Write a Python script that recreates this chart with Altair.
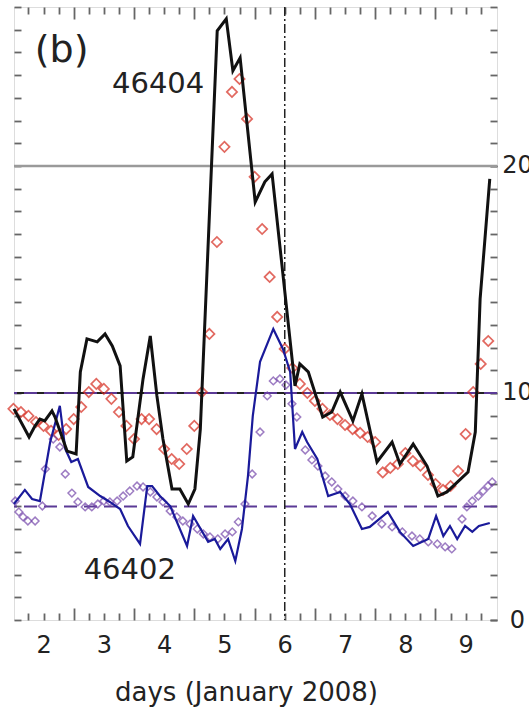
import altair as alt
import pandas as pd

FONT = "DejaVu Sans"

# ---------------- data ----------------
# buoy 46404, observed (black line)
obs_46404_day = [1.51, 1.76, 1.86, 1.94, 2.02, 2.14, 2.19, 2.39, 2.54, 2.61,
                 2.72, 2.89, 3.02, 3.14, 3.27, 3.38, 3.48, 3.65, 3.77, 3.88,
                 3.98, 4.13, 4.26, 4.40, 4.51, 4.60, 4.88, 5.03, 5.14, 5.26,
                 5.51, 5.67, 5.79, 6.17, 6.25, 6.39, 6.63, 6.78, 6.92, 7.13,
                 7.28, 7.53, 7.78, 7.91, 8.13, 8.36, 8.54, 8.69, 9.04, 9.16,
                 9.24, 9.40]
obs_46404_val = [9.30, 8.06, 8.55, 8.85, 8.77, 9.21, 8.94, 7.44, 7.31, 10.93,
                 12.38, 12.25, 12.60, 12.07, 11.19, 7.00, 7.18, 10.62, 12.51, 9.87,
                 7.97, 5.77, 5.77, 5.11, 5.77, 8.41, 25.95, 26.48, 24.19, 24.76,
                 18.41, 19.30, 19.65, 10.31, 11.28, 10.93, 8.94, 9.16, 10.04, 8.77,
                 9.96, 6.96, 7.84, 6.87, 7.75, 6.78, 5.46, 5.64, 6.52, 8.28,
                 14.14, 19.43]

# buoy 46404, model (red diamonds)
mod_46404_day = [1.500, 1.625, 1.750, 1.875, 2.000, 2.125, 2.250, 2.375, 2.500, 2.625,
                 2.750, 2.875, 3.000, 3.125, 3.250, 3.375, 3.500, 3.625, 3.750, 3.875,
                 4.000, 4.125, 4.250, 4.375, 4.500, 4.625, 4.750, 4.875, 5.000, 5.125,
                 5.250, 5.375, 5.500, 5.625, 5.750, 5.875, 6.000, 6.125, 6.250, 6.375,
                 6.500, 6.625, 6.750, 6.875, 7.000, 7.125, 7.250, 7.375, 7.500, 7.625,
                 7.750, 7.875, 8.000, 8.125, 8.250, 8.375, 8.500, 8.625, 8.750, 8.875,
                 9.000, 9.125, 9.250, 9.375]
mod_46404_val = [9.30, 9.16, 8.99, 8.72, 8.55, 8.33, 8.15, 8.41, 8.85, 9.38,
                 10.04, 10.40, 10.18, 9.74, 9.16, 8.55, 7.97, 8.85, 8.85, 8.41,
                 7.53, 7.09, 6.87, 7.53, 8.55, 10.04, 12.60, 16.65, 20.84, 23.26,
                 23.83, 22.07, 19.52, 17.22, 15.11, 13.35, 11.94, 11.10, 10.40, 10.00,
                 9.65, 9.30, 9.03, 8.85, 8.59, 8.41, 8.24, 8.06, 7.84, 6.50,
                 6.70, 6.87, 7.35, 7.00, 6.80, 6.39, 5.99, 5.73, 5.90, 6.56,
                 8.19, 10.04, 11.28, 12.29]

# buoy 46402, observed (blue line)
obs_46402_day = [1.51, 1.69, 1.81, 1.94, 2.11, 2.27, 2.36, 2.46, 2.57, 2.74,
                 2.94, 3.10, 3.27, 3.40, 3.60, 3.72, 3.80, 3.93, 4.10, 4.38,
                 4.48, 4.73, 4.84, 4.93, 5.06, 5.18, 5.29, 5.39, 5.47, 5.59,
                 5.81, 5.97, 6.09, 6.17, 6.29, 6.37, 6.54, 6.72, 6.92, 7.08,
                 7.28, 7.41, 7.71, 7.91, 8.13, 8.38, 8.51, 8.63, 8.74, 8.86,
                 8.99, 9.11, 9.22, 9.40]
obs_46402_val = [5.11, 5.73, 5.33, 5.24, 7.84, 9.43, 7.53, 6.96, 7.09, 5.86,
                 5.46, 5.20, 4.89, 4.14, 3.35, 5.90, 5.90, 5.46, 5.02, 3.26,
                 4.58, 3.44, 3.57, 3.13, 3.57, 2.60, 4.01, 6.34, 8.99, 11.37,
                 12.82, 11.94, 10.93, 7.53, 8.28, 7.84, 7.09, 5.46, 5.64, 5.11,
                 4.01, 4.10, 4.76, 3.88, 3.26, 3.57, 4.58, 3.70, 4.14, 3.57,
                 4.14, 3.88, 4.14, 4.27]

# buoy 46402, model (purple diamonds)
mod_46402_day = [1.53, 1.59, 1.66, 1.74, 1.86, 1.98, 2.03, 2.16, 2.27, 2.36,
                 2.47, 2.57, 2.69, 2.80, 2.90, 3.00, 3.10, 3.22, 3.32, 3.43,
                 3.55, 3.65, 3.77, 3.88, 3.98, 4.10, 4.21, 4.31, 4.43, 4.55,
                 4.65, 4.76, 4.89, 5.01, 5.13, 5.23, 5.34, 5.46, 5.59, 5.71,
                 5.81, 5.92, 6.02, 6.12, 6.20, 6.34, 6.45, 6.55, 6.67, 6.78,
                 6.88, 7.00, 7.13, 7.28, 7.45, 7.61, 7.78, 7.95, 8.11, 8.24,
                 8.38, 8.53, 8.66, 8.77, 8.94, 9.02, 9.11, 9.21, 9.29, 9.37,
                 9.44]
mod_46402_val = [5.24, 4.76, 4.54, 4.36, 4.36, 5.02, 6.65, 7.97, 7.62, 6.43,
                 5.59, 5.20, 4.98, 4.98, 5.11, 5.24, 5.20, 5.24, 5.46, 5.68,
                 5.90, 5.86, 5.64, 5.42, 5.20, 4.80, 4.54, 4.36, 4.23, 4.01,
                 3.79, 3.66, 3.57, 3.79, 3.88, 4.32, 5.11, 6.43, 8.28, 9.87,
                 10.53, 10.62, 10.35, 9.52, 8.94, 7.49, 7.05, 6.78, 6.34, 6.08,
                 5.77, 5.46, 5.24, 4.98, 4.58, 4.23, 4.10, 3.88, 3.70, 3.57,
                 3.44, 3.35, 3.22, 3.13, 4.45, 4.98, 5.24, 5.46, 5.68, 5.90,
                 6.08]

# reference levels and event marker
gray_level = [20]
black_level = [10]
dashed_levels = [10, 5]
event_day = [6]

# tick positions / labels
day_labels = [2, 3, 4, 5, 6, 7, 8, 9]
quarter_ticks = [1.75, 2.25, 2.75, 3.25, 3.75, 4.25, 4.75, 5.25,
                 5.75, 6.25, 6.75, 7.25, 7.75, 8.25, 8.75, 9.25]
all_short_ticks = [1.75, 2, 2.25, 2.75, 3, 3.25, 3.75, 4, 4.25, 4.75, 5, 5.25,
                   5.75, 6, 6.25, 6.75, 7, 7.25, 7.75, 8, 8.25, 8.75, 9, 9.25]
half_ticks = [2.5, 3.5, 4.5, 5.5, 6.5, 7.5, 8.5]
y_ticks = list(range(0, 28))
y_labels = [0, 10, 20]

# text annotations
panel_label = ["(b)"]
panel_day = [2.30]
panel_val = [25.05]
station_labels = ["46404", "46402"]
station_day = [3.90, 3.43]
station_val = [23.61, 2.20]

# ---------------- chart ----------------
xs = alt.Scale(domain=[1.51, 9.52], nice=False, zero=False)
ys = alt.Scale(domain=[0, 27], nice=False, zero=False)


def tick_axis(orient, values, size, **kw):
    base = dict(orient=orient, values=values, tickSize=size, offset=-size,
                domain=False, grid=False, labels=False, title=None,
                tickColor="#666666", tickWidth=1.8)
    base.update(kw)
    return alt.Axis(**base)


ax_bottom = tick_axis(
    "bottom", day_labels, 7, labels=True, format="d",
    labelFont=FONT, labelFontSize=24, labelColor="#222222", labelPadding=13,
    labelFlush=False, labelOverlap=False,
    title="days (January 2008)", titleFont=FONT, titleFontSize=26,
    titleFontWeight="normal", titleColor="#222222",
    titleX=232, titleY=87, titleAlign="center", titleBaseline="alphabetic")
ax_bottom_quarter = tick_axis("bottom", quarter_ticks, 7)
ax_bottom_long = tick_axis("bottom", half_ticks, 12)
ax_top = tick_axis("top", all_short_ticks, 7)
ax_top_long = tick_axis("top", half_ticks, 12)
ax_left = tick_axis("left", y_ticks, 7)
ax_right_ticks = tick_axis("right", y_ticks, 7)
ax_right = tick_axis(
    "right", y_labels, 7, labels=True, format="d",
    labelFont=FONT, labelFontSize=24, labelColor="#222222", labelPadding=20,
    labelAlign="center", labelFlush=False, labelOverlap=False)

black_df = pd.DataFrame({"day": obs_46404_day, "hs": obs_46404_val})
red_df = pd.DataFrame({"day": mod_46404_day, "hs": mod_46404_val})
blue_df = pd.DataFrame({"day": obs_46402_day, "hs": obs_46402_val})
purple_df = pd.DataFrame({"day": mod_46402_day, "hs": mod_46402_val})

rule20 = alt.Chart(pd.DataFrame({"level": gray_level})).mark_rule(
    color="#9a9a9a", strokeWidth=2.5).encode(
    y=alt.Y("level:Q", scale=ys, axis=ax_right_ticks))
rule10 = alt.Chart(pd.DataFrame({"level": black_level})).mark_rule(
    color="#222222", strokeWidth=2).encode(
    y=alt.Y("level:Q", scale=ys, axis=None))
dashed = alt.Chart(pd.DataFrame({"level": dashed_levels})).mark_rule(
    color="#5b3a96", strokeWidth=2, strokeDash=[13, 7]).encode(
    y=alt.Y("level:Q", scale=ys, axis=None))
vline = alt.Chart(pd.DataFrame({"day": event_day})).mark_rule(
    color="#222222", strokeWidth=1.5, strokeDash=[9, 3, 2, 3]).encode(
    x=alt.X("day:Q", scale=xs, axis=ax_bottom_quarter))

red = alt.Chart(red_df).mark_point(
    shape="diamond", filled=False, size=105, color="#d62a1e", strokeWidth=1.7).encode(
    x=alt.X("day:Q", scale=xs, axis=ax_top),
    y=alt.Y("hs:Q", scale=ys, axis=ax_right))
purple = alt.Chart(purple_df).mark_point(
    shape="diamond", filled=False, size=60, color="#7446aa", strokeWidth=1.5).encode(
    x=alt.X("day:Q", scale=xs, axis=ax_top_long),
    y=alt.Y("hs:Q", scale=ys, axis=None))
blue = alt.Chart(blue_df).mark_line(color="#1a1a9a", strokeWidth=2.2).encode(
    x=alt.X("day:Q", scale=xs, axis=ax_bottom_long),
    y=alt.Y("hs:Q", scale=ys, axis=None))
black = alt.Chart(black_df).mark_line(color="#111111", strokeWidth=3).encode(
    x=alt.X("day:Q", scale=xs, axis=ax_bottom),
    y=alt.Y("hs:Q", scale=ys, axis=ax_left))

panel_txt = alt.Chart(pd.DataFrame({"t": panel_label, "day": panel_day, "hs": panel_val})).mark_text(
    font=FONT, fontSize=38, color="#222222", baseline="middle").encode(
    x=alt.X("day:Q", scale=xs, axis=None),
    y=alt.Y("hs:Q", scale=ys, axis=None), text="t:N")
station_txt = alt.Chart(pd.DataFrame({"t": station_labels, "day": station_day, "hs": station_val})).mark_text(
    font=FONT, fontSize=29, color="#222222", baseline="middle").encode(
    x=alt.X("day:Q", scale=xs, axis=None),
    y=alt.Y("hs:Q", scale=ys, axis=None), text="t:N")

chart = alt.layer(
    rule20, rule10, dashed, vline, red, purple, blue, black, panel_txt, station_txt
).resolve_axis(x="independent", y="independent").properties(
    width=483, height=613,
    autosize=alt.AutoSizeParams(type="none"),
    padding={"left": 14, "top": 7, "right": 32, "bottom": 89},
).configure_view(stroke="#333333", strokeWidth=2).configure(background="white")

chart.save("out.html", embed_options={"renderer": "svg", "actions": False})
